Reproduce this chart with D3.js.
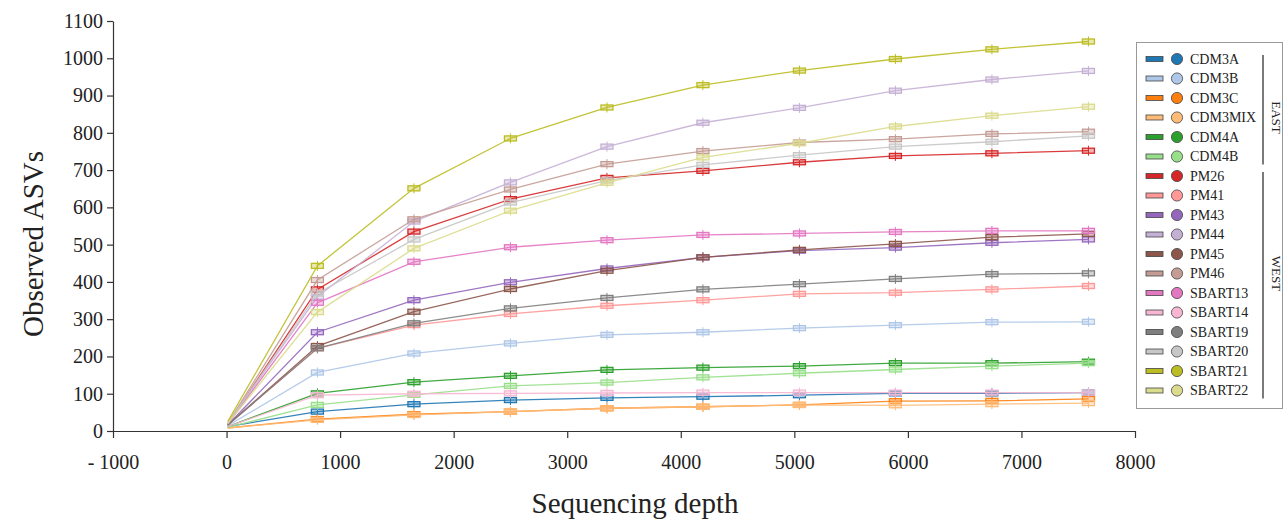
<!DOCTYPE html>
<html><head><meta charset="utf-8">
<script src="https://cdn.jsdelivr.net/npm/d3@7"></script>
<style>body{margin:0;background:#fff}svg{display:block}text{font-family:"Liberation Serif","Times New Roman",serif;fill:#222}</style>
</head><body><svg id="c" width="1285" height="523"></svg>
<script>
const depths = [10, 800, 1650, 2500, 3350, 4195, 5045, 5890, 6740, 7590];
const seriesNames = ["CDM3A","CDM3B","CDM3C","CDM3MIX","CDM4A","CDM4B","PM26","PM41","PM43","PM44","PM45","PM46","SBART13","SBART14","SBART19","SBART20","SBART21","SBART22"];
const seriesColors = ["#1f77b4","#aec7e8","#ff7f0e","#ffbb78","#2ca02c","#98df8a","#d62728","#ff9896","#9467bd","#c5b0d5","#8c564b","#c49c94","#e377c2","#f7b6d2","#7f7f7f","#c7c7c7","#bcbd22","#dbdb8d"];
const CDM3A   = [12, 52, 72, 83, 89, 92, 96, 101, 101, 103];
const CDM3B   = [14, 157, 208, 235, 258, 265, 276, 284, 292, 293];
const CDM3C   = [8, 32, 45, 52, 61, 65, 70, 80, 81, 86];
const CDM3MIX = [8, 30, 43, 52, 61, 65, 70, 69, 72, 75];
const CDM4A   = [12, 101, 131, 148, 164, 170, 174, 182, 182, 186];
const CDM4B   = [10, 70, 97, 121, 130, 144, 155, 165, 174, 182];
const PM26    = [18, 380, 535, 622, 679, 698, 721, 738, 745, 752];
const PM41    = [16, 222, 284, 314, 336, 351, 368, 371, 380, 389];
const PM43    = [16, 265, 351, 399, 436, 466, 484, 492, 505, 514];
const PM44    = [20, 360, 562, 667, 763, 827, 867, 913, 943, 966];
const PM45    = [16, 228, 320, 381, 430, 466, 486, 502, 520, 529];
const PM46    = [20, 405, 568, 648, 716, 751, 774, 783, 797, 803];
const SBART13 = [18, 344, 454, 493, 512, 526, 530, 534, 537, 537];
const SBART14 = [12, 96, 100, 101, 102, 103, 103, 103, 103, 103];
const SBART19 = [16, 222, 289, 329, 357, 380, 394, 408, 421, 423];
const SBART20 = [20, 369, 514, 613, 672, 714, 740, 763, 776, 792];
const SBART21 = [25, 443, 651, 785, 868, 928, 967, 998, 1024, 1045];
const SBART22 = [20, 319, 490, 591, 666, 734, 772, 817, 846, 870];
const seriesValues = [CDM3A,CDM3B,CDM3C,CDM3MIX,CDM4A,CDM4B,PM26,PM41,PM43,PM44,PM45,PM46,SBART13,SBART14,SBART19,SBART20,SBART21,SBART22];
const xTicks = [-1000,0,1000,2000,3000,4000,5000,6000,7000,8000];
const yTicks = [0,100,200,300,400,500,600,700,800,900,1000,1100];
const groupLabels = ["EAST","WEST"];
const groupFrom = [0, 6];
const groupTo = [5, 17];
const groupLabelRow = [3, 11];

const svg = d3.select("#c");
const x = d3.scaleLinear().domain([-1000, 8000]).range([113, 1135]);
const y = d3.scaleLinear().domain([0, 1100]).range([431, 21]);

// axes
const xAxis = svg.append("g").attr("transform","translate(0,431)")
  .call(d3.axisBottom(x).tickValues(xTicks).tickSize(7).tickSizeOuter(0)
    .tickFormat(d => d < 0 ? "- " + Math.abs(d) : String(d)));
xAxis.selectAll("text").attr("font-size", 20).attr("y", 38).attr("dy", 0);
const yAxis = svg.append("g").attr("transform","translate(113,0)")
  .call(d3.axisLeft(y).tickValues(yTicks).tickSize(6).tickSizeOuter(0).tickFormat(d3.format("d")));
yAxis.selectAll("text").attr("font-size", 20).attr("x", -10);
svg.selectAll(".domain, .tick line").attr("stroke","#333").attr("stroke-width",1.2);

svg.append("text").attr("x", 635).attr("y", 513).attr("text-anchor","middle")
  .attr("font-size", 29).text("Sequencing depth");
svg.append("text").attr("transform","translate(43,244) rotate(-90)").attr("text-anchor","middle")
  .attr("font-size", 29).text("Observed ASVs");

// lines
const line = d3.line().x((d,i) => x(depths[i])).y(d => y(d));
const plot = svg.append("g");
seriesValues.forEach((vals, s) => {
  const col = seriesColors[s];
  plot.append("path").datum(vals).attr("d", line).attr("fill","none")
    .attr("stroke", col).attr("stroke-width", 1.3).attr("stroke-opacity", 0.9);
  vals.forEach((v, i) => {
    if (i === 0) return;
    const cx = x(depths[i]), cy = y(v);
    plot.append("line").attr("x1", cx).attr("x2", cx).attr("y1", cy - 5).attr("y2", cy + 5)
      .attr("stroke", col).attr("stroke-width", 1);
    plot.append("rect").attr("x", cx - 6).attr("y", cy - 2.5).attr("width", 12).attr("height", 5)
      .attr("fill", col).attr("fill-opacity", 0.35)
      .attr("stroke", col).attr("stroke-width", 1.3);
  });
});

// legend
const lg = svg.append("g");
lg.append("rect").attr("x", 1136.5).attr("y", 42.5).attr("width", 146).attr("height", 366)
  .attr("fill","#fff").attr("stroke","#999").attr("stroke-width",1);
const ly = i => 59 + i * 19.5;
seriesNames.forEach((name, i) => {
  const col = seriesColors[i];
  lg.append("rect").attr("x", 1146).attr("y", ly(i) - 2.5).attr("width", 17).attr("height", 5)
    .attr("fill", col).attr("stroke", "#444").attr("stroke-width", 0.8);
  lg.append("circle").attr("cx", 1177).attr("cy", ly(i)).attr("r", 5.6)
    .attr("fill", col).attr("stroke", "#444").attr("stroke-width", 0.8);
  lg.append("text").attr("x", 1190).attr("y", ly(i) + 4.8).attr("font-size", 14).text(name);
});
groupLabels.forEach((label, g) => {
  const y0 = ly(groupFrom[g]) - 4, y1 = ly(groupTo[g]) + 8;
  lg.append("line").attr("x1", 1263).attr("x2", 1263).attr("y1", y0).attr("y2", y1)
    .attr("stroke","#333").attr("stroke-width", 1.3);
  lg.append("text").attr("transform", `translate(1272,${ly(groupLabelRow[g])}) rotate(90)`)
    .attr("text-anchor","middle").attr("font-size", 13).text(label);
});
</script></body></html>
